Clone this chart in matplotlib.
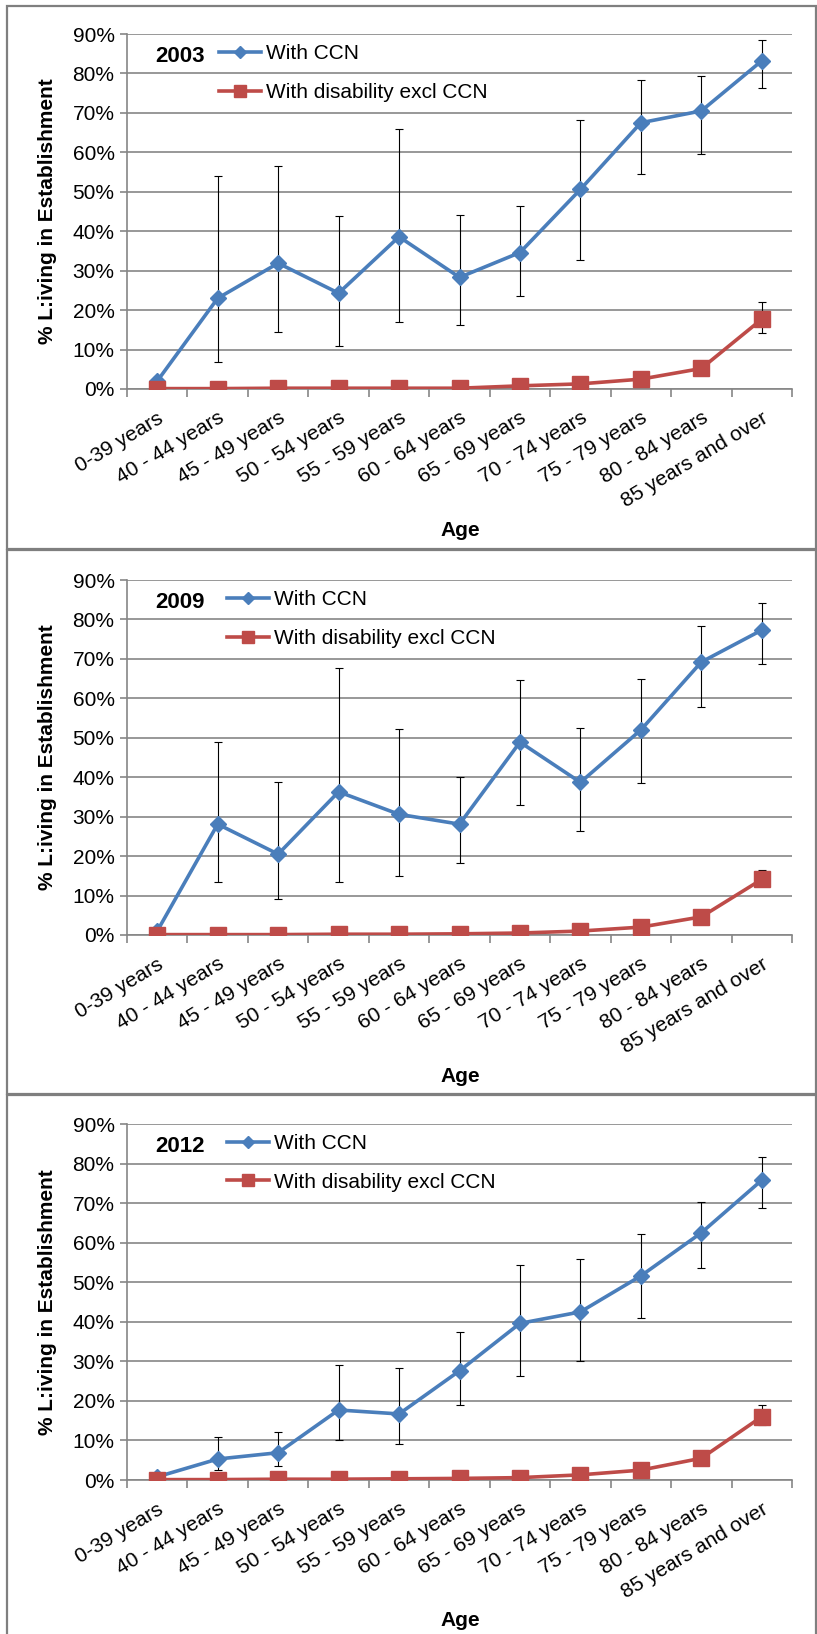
import numpy as np
import matplotlib.pyplot as plt
from matplotlib.lines import Line2D
from matplotlib.patches import Rectangle


#fonts close to the Excel original
plt.rc('font', family=['Liberation Sans', 'DejaVu Sans'], size=15)

W, H = 817, 1634

ages = ['0-39 years', '40 - 44 years', '45 - 49 years', '50 - 54 years',
        '55 - 59 years', '60 - 64 years', '65 - 69 years', '70 - 74 years',
        '75 - 79 years', '80 - 84 years', '85 years and over']
years = ['2003', '2009', '2012']

# % living in establishment, with CCN (value, upper, lower)
ccn_2003 = [2.0, 23.0, 31.9, 24.3, 38.6, 28.3, 34.6, 50.6, 67.5, 70.5, 83.2]
ccn_2003_hi = [3.0, 54.1, 56.5, 43.9, 65.8, 44.2, 46.5, 68.1, 78.3, 79.3, 88.4]
ccn_2003_lo = [1.0, 6.8, 14.4, 11.0, 16.9, 16.2, 23.7, 32.6, 54.4, 59.6, 76.2]

ccn_2009 = [1.0, 28.1, 20.5, 36.3, 30.6, 28.1, 48.9, 38.7, 52.0, 69.2, 77.3]
ccn_2009_hi = [2.0, 49.0, 38.9, 67.8, 52.1, 40.1, 64.6, 52.6, 64.8, 78.3, 84.1]
ccn_2009_lo = [0.5, 13.4, 9.2, 13.4, 15.0, 18.2, 32.9, 26.4, 38.6, 57.9, 68.8]

ccn_2012 = [0.8, 5.3, 6.9, 17.7, 16.7, 27.6, 39.6, 42.5, 51.6, 62.5, 75.8]
ccn_2012_hi = [1.5, 10.9, 12.1, 29.1, 28.2, 37.5, 54.4, 55.9, 62.1, 70.3, 81.7]
ccn_2012_lo = [0.3, 2.5, 3.5, 10.1, 9.0, 19.0, 26.4, 30.0, 40.9, 53.6, 68.7]

# with disability excluding CCN
dis_2003 = [0.1, 0.1, 0.2, 0.2, 0.2, 0.2, 0.8, 1.3, 2.5, 5.2, 17.7]
dis_2003_hi = [0.1, 0.1, 0.2, 0.2, 0.2, 0.2, 0.8, 1.3, 2.5, 5.2, 22.1]
dis_2003_lo = [0.1, 0.1, 0.2, 0.2, 0.2, 0.2, 0.8, 1.3, 2.5, 5.2, 14.2]

dis_2009 = [0.1, 0.1, 0.1, 0.2, 0.2, 0.3, 0.5, 1.0, 2.0, 4.6, 14.1]
dis_2009_hi = [0.1, 0.1, 0.1, 0.2, 0.2, 0.3, 0.5, 1.0, 2.0, 4.6, 16.5]
dis_2009_lo = [0.1, 0.1, 0.1, 0.2, 0.2, 0.3, 0.5, 1.0, 2.0, 4.6, 13.0]

dis_2012 = [0.1, 0.1, 0.2, 0.2, 0.3, 0.4, 0.6, 1.3, 2.5, 5.5, 16.0]
dis_2012_hi = [0.1, 0.1, 0.2, 0.2, 0.3, 0.4, 0.6, 1.3, 2.5, 5.5, 19.0]
dis_2012_lo = [0.1, 0.1, 0.2, 0.2, 0.3, 0.4, 0.6, 1.3, 2.5, 5.5, 13.9]

ccn_all = [(ccn_2003, ccn_2003_hi, ccn_2003_lo),
           (ccn_2009, ccn_2009_hi, ccn_2009_lo),
           (ccn_2012, ccn_2012_hi, ccn_2012_lo)]
dis_all = [(dis_2003, dis_2003_hi, dis_2003_lo),
           (dis_2009, dis_2009_hi, dis_2009_lo),
           (dis_2012, dis_2012_hi, dis_2012_lo)]

yticks = [0, 10, 20, 30, 40, 50, 60, 70, 80, 90]

blue = '#4a7ebb'
red = '#be4b48'
grey = '#868686'

# pixel layout of each panel
ax_left, ax_right = 127, 792
ax_tops = [34, 580, 1124]
ax_bots = [389, 935, 1480]
box_tops = [6, 550, 1095]
box_bots = [549, 1094, 1640]
leg_x = [219, 227, 227]


def fx(x):
    return x / W


def fy(y):
    return 1 - y / H


fig = plt.figure(figsize=(W / 100, H / 100), dpi=100)

for i in range(3):
    # panel frame
    fig.patches.append(Rectangle((fx(7), fy(box_bots[i])), fx(816) - fx(7),
                                 fy(box_tops[i]) - fy(box_bots[i]),
                                 transform=fig.transFigure, fill=False,
                                 edgecolor='#7f7f7f', linewidth=1.6))

    ax = fig.add_axes([fx(ax_left), fy(ax_bots[i]), (ax_right - ax_left) / W,
                       (ax_bots[i] - ax_tops[i]) / H])
    x = np.arange(len(ages))
    c, chi, clo = ccn_all[i]
    d, dhi, dlo = dis_all[i]

    ax.errorbar(x, c, yerr=[np.array(c) - np.array(clo), np.array(chi) - np.array(c)],
                fmt='none', ecolor='black', elinewidth=0.8, capsize=3.2, capthick=0.8, zorder=2)
    ax.errorbar(x, d, yerr=[np.array(d) - np.array(dlo), np.array(dhi) - np.array(d)],
                fmt='none', ecolor='black', elinewidth=0.8, capsize=3.2, capthick=0.8, zorder=2)
    ax.plot(x, c, color=blue, linewidth=2.6, marker='D', markersize=8, zorder=3)
    ax.plot(x, d, color=red, linewidth=2.6, marker='s', markersize=11.5, zorder=4)

    ax.set_xlim(-0.5, len(ages) - 0.5)
    ax.set_ylim(0, 90)
    ax.set_yticks(yticks)
    ax.set_yticklabels([f'{v}%' for v in yticks])
    ax.grid(axis='y', color=grey, linewidth=1.2)
    ax.set_axisbelow(True)
    for s in ['top', 'right']:
        ax.spines[s].set_visible(False)
    for s in ['left', 'bottom']:
        ax.spines[s].set_color(grey)
        ax.spines[s].set_linewidth(1.2)
    ax.tick_params(axis='y', length=5, color=grey, width=1.2, pad=4, labelsize=15)
    ax.set_xticks(x)
    ax.set_xticklabels(ages, rotation=31, ha='right', rotation_mode='anchor')
    ax.tick_params(axis='x', which='major', length=0, pad=14, labelsize=15)
    ax.set_xticks(np.arange(-0.5, len(ages)), minor=True)
    ax.tick_params(axis='x', which='minor', length=6, color=grey, width=1.2)

    # year label and legend
    h = ax_bots[i] - ax_tops[i]
    ax.text((180 - ax_left) / (ax_right - ax_left), 1 - 23 / h, years[i],
            transform=ax.transAxes, ha='center', va='center',
            fontsize=16, fontweight='bold')
    handles = [Line2D([], [], color=blue, linewidth=2.6, marker='D', markersize=6),
               Line2D([], [], color=red, linewidth=2.6, marker='s', markersize=9)]
    ax.legend(handles, ['With CCN', 'With disability excl CCN'], frameon=False,
              loc='upper left',
              bbox_to_anchor=((leg_x[i] - ax_left) / (ax_right - ax_left), 1 - 10 / h),
              borderaxespad=0, borderpad=0, handlelength=2.0, handletextpad=0.25,
              labelspacing=0.95, fontsize=15)

    fig.text(fx(48), fy((ax_tops[i] + ax_bots[i]) / 2), '% L:iving in Establishment',
             rotation=90, ha='center', va='center', fontsize=15, fontweight='bold')
    fig.text(fx(460), fy(ax_bots[i] + 141), 'Age', ha='center', va='center',
             fontsize=15, fontweight='bold')

fig.savefig('out.png', dpi=100)
